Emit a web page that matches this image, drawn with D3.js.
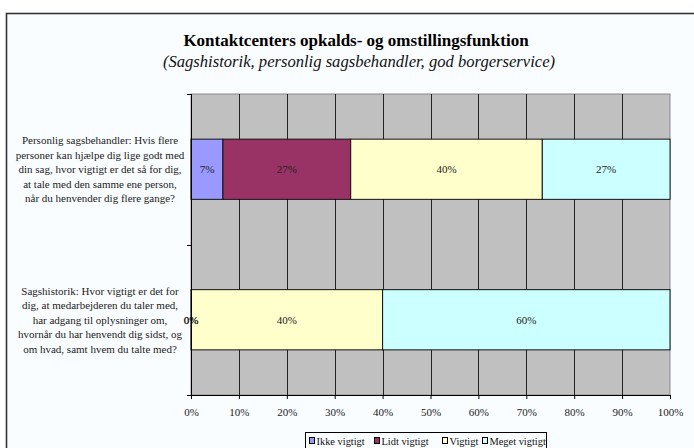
<!DOCTYPE html>
<html>
<head>
<meta charset="utf-8">
<script src="https://cdn.jsdelivr.net/npm/d3@7"></script>
<style>
  html, body { margin: 0; padding: 0; background: #ffffff; }
  svg { display: block; }
  svg text { font-family: "Liberation Serif", "Tinos", "Times New Roman", "DejaVu Serif", serif; }
</style>
</head>
<body>
<svg id="chart" width="694" height="448"></svg>
<script>
// Questions (top to bottom) and the share of answers per importance level
const questions = [
  ["Personlig sagsbehandler: Hvis flere", "personer kan hjælpe dig lige godt med", "din sag, hvor vigtigt er det så for dig,", "at tale med den samme ene person,", "når du henvender dig flere gange?"],
  ["Sagshistorik: Hvor vigtigt er det for", "dig, at medarbejderen du taler med,", "har adgang til oplysninger om,", "hvornår du har henvendt dig sidst, og", "om hvad, samt hvem du talte med?"]
];
const questionKeys = ["personlig", "sagshistorik"];
const levels = ["Ikke vigtigt", "Lidt vigtigt", "Vigtigt", "Meget vigtigt"];
const levelColors = ["#9999ff", "#993366", "#ffffcc", "#ccffff"];
const ikkeVigtigt = [0.0667, 0.0];
const lidtVigtigt = [0.2667, 0.0];
const vigtigt = [0.40, 0.40];
const megetVigtigt = [0.2667, 0.60];
const xTicks = [0, 0.1, 0.2, 0.3, 0.4, 0.5, 0.6, 0.7, 0.8, 0.9, 1.0];
const titleText = "Kontaktcenters opkalds- og omstillingsfunktion";
const subtitleText = "(Sagshistorik, personlig sagsbehandler, god borgerservice)";

const svg = d3.select("#chart");

// Chart area background and frame
svg.append("rect").attr("x", 6.5).attr("y", 13.5).attr("width", 720).attr("height", 460)
  .attr("fill", "#fafdff").attr("stroke", "#333").attr("stroke-width", 1.6);

svg.append("text").attr("x", 356).attr("y", 46).attr("text-anchor", "middle")
  .attr("font-size", 17).attr("font-weight", "bold").attr("fill", "#000").text(titleText);
svg.append("text").attr("x", 359).attr("y", 67).attr("text-anchor", "middle")
  .attr("font-size", 16.6).attr("font-style", "italic").attr("fill", "#111").text(subtitleText);

const plot = { left: 191, right: 670, top: 94, bottom: 395 };

const x = d3.scaleLinear().domain([0, 1]).range([plot.left, plot.right]);
const y = d3.scaleBand().domain(questionKeys).range([plot.top, plot.bottom])
  .paddingInner(0.6).paddingOuter(0.3);
const yEdges = d3.scaleBand().domain(questionKeys).range([plot.top, plot.bottom]).padding(0);

// Plot background
svg.append("rect").attr("x", plot.left).attr("y", plot.top)
  .attr("width", plot.right - plot.left).attr("height", plot.bottom - plot.top)
  .attr("fill", "#c0c0c0").attr("stroke", "#8a8a8a").attr("stroke-width", 1);

// Vertical gridlines
svg.append("g").selectAll("line").data(xTicks.slice(1, -1)).join("line")
  .attr("x1", d => Math.round(x(d)) + 0.5).attr("x2", d => Math.round(x(d)) + 0.5)
  .attr("y1", plot.top).attr("y2", plot.bottom)
  .attr("stroke", "#222").attr("stroke-width", 1);

// Stacked segments
const rows = questionKeys.map((k, i) => ({
  key: k,
  "Ikke vigtigt": ikkeVigtigt[i],
  "Lidt vigtigt": lidtVigtigt[i],
  "Vigtigt": vigtigt[i],
  "Meget vigtigt": megetVigtigt[i]
}));
const stacked = d3.stack().keys(levels)(rows);

const layers = svg.append("g").selectAll("g").data(stacked).join("g")
  .attr("fill", (d, i) => levelColors[i]);
layers.selectAll("rect").data(d => d).join("rect")
  .attr("x", d => x(d[0]))
  .attr("y", d => y(d.data.key))
  .attr("width", d => x(d[1]) - x(d[0]))
  .attr("height", y.bandwidth())
  .attr("stroke", "#111").attr("stroke-width", 1)
  .attr("display", d => d[1] - d[0] > 0 ? null : "none");

// Value labels in each segment
const labels = svg.append("g");
stacked.forEach(layer => {
  layer.forEach(d => {
    labels.append("text")
      .attr("x", x((d[0] + d[1]) / 2))
      .attr("y", y(d.data.key) + y.bandwidth() / 2 + 4)
      .attr("text-anchor", "middle").attr("font-size", 11).attr("fill", "#222")
      .text(Math.round((d[1] - d[0]) * 100) + "%");
  });
});

// X axis
const xAxis = d3.axisBottom(x).tickValues(xTicks).tickSize(4).tickPadding(9)
  .tickFormat(d => Math.round(d * 100) + "%");
const gx = svg.append("g").attr("transform", `translate(0,${plot.bottom})`).call(xAxis);
gx.attr("font-family", null);
gx.select(".domain").attr("stroke", "#000");
gx.selectAll(".tick line").attr("stroke", "#000");
gx.selectAll("text").attr("font-size", 11).attr("fill", "#222");

// Y axis: line with ticks at category boundaries
const gy = svg.append("g");
gy.append("line").attr("x1", plot.left + 0.5).attr("x2", plot.left + 0.5)
  .attr("y1", plot.top).attr("y2", plot.bottom).attr("stroke", "#000");
const boundaries = questionKeys.map(k => yEdges(k)).concat([plot.bottom]);
gy.selectAll("line.b").data(boundaries).join("line").attr("class", "b")
  .attr("x1", plot.left - 4).attr("x2", plot.left)
  .attr("y1", d => Math.round(d) + 0.5).attr("y2", d => Math.round(d) + 0.5)
  .attr("stroke", "#000");

// Category labels
questionKeys.forEach((k, i) => {
  const cy = y(k) + y.bandwidth() / 2;
  const lines = questions[i];
  const lh = 14.6;
  const t = svg.append("text").attr("text-anchor", "middle").attr("font-size", 11).attr("fill", "#222");
  lines.forEach((ln, j) => {
    t.append("tspan").attr("x", 100)
      .attr("y", cy + (j - (lines.length - 1) / 2) * lh + 4)
      .text(ln);
  });
});

// Legend
const legend = svg.append("g");
legend.append("rect").attr("x", 305.5).attr("y", 432.5).attr("width", 241).attr("height", 20)
  .attr("fill", "#fafdff").attr("stroke", "#000").attr("stroke-width", 1);
const legendX = [309, 374, 442, 482];
levels.forEach((lv, i) => {
  legend.append("rect").attr("x", legendX[i] + 0.5).attr("y", 437.5).attr("width", 5).attr("height", 6)
    .attr("fill", levelColors[i]).attr("stroke", "#000").attr("stroke-width", 1);
  legend.append("text").attr("x", legendX[i] + 7.5).attr("y", 444.5)
    .attr("font-size", 10.4).attr("fill", "#111").text(lv);
});
</script>
</body>
</html>
